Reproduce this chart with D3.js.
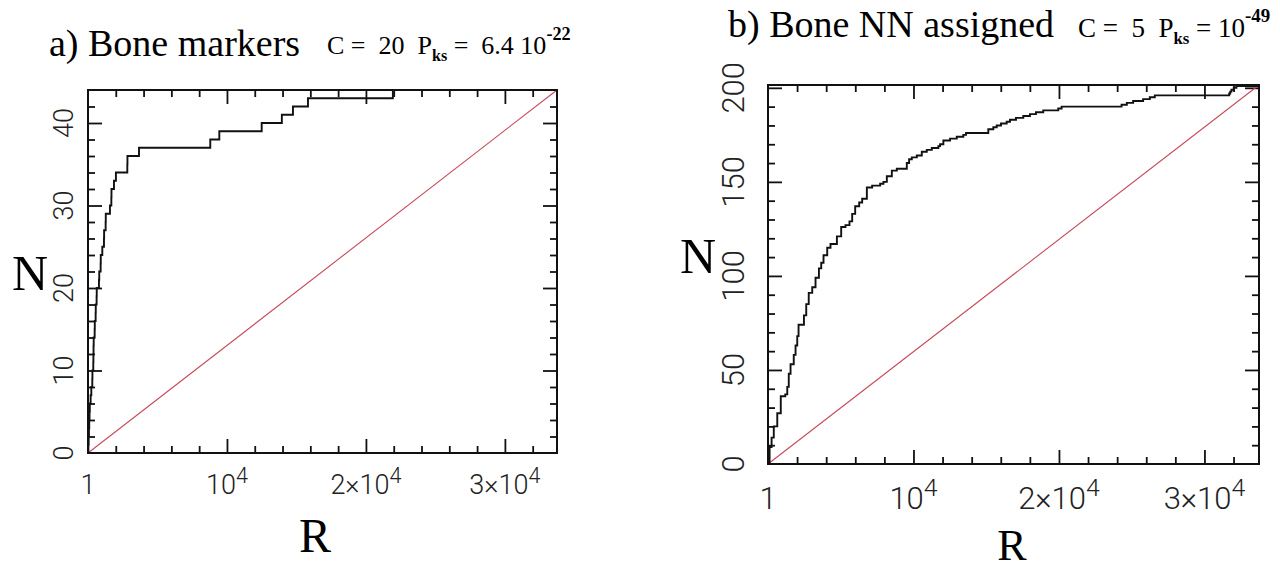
<!DOCTYPE html>
<html>
<head>
<meta charset="utf-8">
<script src="https://cdn.jsdelivr.net/npm/d3@7"></script>
<style>
    body { margin: 0; background: #fff; }
    svg { display: block; }
</style>
</head>
<body>
<svg id="chart" width="1280" height="573"></svg>
<script>
// ---- data ----
const rankMax = 33750;

// a) Bone markers: rank of each marker, N = position in list
const markerRanks = [30, 50, 70, 90, 110, 130, 190, 240, 310, 320,
    380, 390, 400, 410, 480, 490, 550, 560, 620, 630,
    790, 810, 910, 920, 1030, 1150, 1160, 1270, 1280, 1580,
    1680, 1690, 1870, 2010, 2830, 2840, 3670, 8800, 9450, 12500,
    13950, 14750, 15830, 21940];

// b) Bone NN assigned: rank / cumulative count pairs along the curve
const nnRanks = [110, 247, 398, 638, 879, 1188, 1325, 1428, 1551, 1771,
    1895, 2011, 2101, 2471, 2629, 2801, 3041, 3268, 3501, 3659,
    3817, 4071, 4297, 4737, 5032, 5327, 5602, 5787, 5993, 6268,
    6474, 6796, 7160, 7709, 7936, 8169, 8513, 8856, 9542, 9700,
    9886, 10229, 10572, 10915, 11259, 11712, 11828, 12055, 12515, 12975,
    13428, 13613, 15144, 15488, 15721, 16016, 16407, 16634, 17046, 17547,
    18007, 18419, 18920, 19950, 20183, 24302, 24666, 25099, 25785, 26245,
    26588, 31703, 31772, 31854, 32012, 32198];
const nnCounts = [9, 14, 20, 27, 36, 37, 41, 48, 53, 58,
    63, 68, 74, 79, 85, 91, 94, 99, 104, 107,
    111, 115, 117, 121, 126, 127, 129, 133, 137, 139,
    141, 147, 148, 149, 150, 153, 156, 157, 160, 162,
    163, 164, 166, 167, 168, 169, 170, 172, 173, 174,
    175, 176, 178, 179, 180, 181, 182, 183, 184, 185,
    186, 187, 188, 189, 190, 191, 192, 193, 194, 195,
    196, 197, 198, 199, 200, 201];

// tick values and labels
const xMajorTicks = [10000, 20000, 30000];
const xMinorTicks = [2000, 4000, 6000, 8000, 12000, 14000, 16000, 18000,
    22000, 24000, 26000, 28000, 32000];
const xLabelValues = [1, 10000, 20000, 30000];
const xLabelBase = ["1", "10", "2\u00d710", "3\u00d710"];
const xLabelSup = ["", "4", "4", "4"];

const aYMajor = [10, 20, 30, 40];
const aYMinor = [2, 4, 6, 8, 12, 14, 16, 18, 22, 24, 26, 28, 32, 34, 36, 38, 42];
const aYLabels = [0, 10, 20, 30, 40];

const bYMajor = [50, 100, 150, 200];
const bYMinor = [10, 20, 30, 40, 60, 70, 80, 90, 110, 120, 130, 140, 160, 170, 180, 190];
const bYLabels = [0, 50, 100, 150, 200];

const svg = d3.select("#chart");
const serif = "'Liberation Serif', 'Times New Roman', serif";
const sans = "Roboto, 'Liberation Sans', Arial, sans-serif";

// Draw inward ticks on one side with a d3 axis
function ticks(g, axisFn, scale, values, len, transform) {
    g.append("g")
        .attr("transform", transform)
        .call(axisFn(scale).tickValues(values).tickSize(-len).tickFormat(""))
        .call(s => s.select(".domain").remove())
        .selectAll("line")
        .attr("stroke", "#111")
        .attr("stroke-width", 1.8);
}

function drawPanel(p) {
    const g = svg.append("g");
    const x = d3.scaleLinear().domain([1, rankMax]).range([p.left, p.right]);
    const y = d3.scaleLinear().domain([0, p.yMax]).range([p.bottom, p.top]);

    // ticks on all four sides, pointing inside
    ticks(g, d3.axisBottom, x, xMajorTicks, 14, `translate(0,${p.bottom})`);
    ticks(g, d3.axisBottom, x, xMinorTicks, 7, `translate(0,${p.bottom})`);
    ticks(g, d3.axisTop, x, xMajorTicks, 14, `translate(0,${p.top})`);
    ticks(g, d3.axisTop, x, xMinorTicks, 7, `translate(0,${p.top})`);
    ticks(g, d3.axisLeft, y, p.yMajor, 14, `translate(${p.left},0)`);
    ticks(g, d3.axisLeft, y, p.yMinor, 7, `translate(${p.left},0)`);
    ticks(g, d3.axisRight, y, p.yMajor, 14, `translate(${p.right},0)`);
    ticks(g, d3.axisRight, y, p.yMinor, 7, `translate(${p.right},0)`);

    // uniform expectation: corner to corner
    g.append("line")
        .attr("x1", x(1)).attr("y1", y(0))
        .attr("x2", x(rankMax)).attr("y2", y(p.yMax))
        .attr("stroke", "#c8485a")
        .attr("stroke-width", 1.1);

    // cumulative step curve
    const pts = [[1, 0]].concat(p.ranks.map((r, i) => [r, p.counts[i]]));
    pts.push([rankMax, p.counts[p.counts.length - 1]]);
    g.append("path")
        .datum(pts)
        .attr("fill", "none")
        .attr("stroke", "#111")
        .attr("stroke-width", 1.9)
        .attr("d", d3.line().x(d => x(d[0])).y(d => y(d[1])).curve(d3.curveStepAfter));

    // frame
    g.append("rect")
        .attr("x", p.left).attr("y", p.top)
        .attr("width", p.right - p.left).attr("height", p.bottom - p.top)
        .attr("fill", "none")
        .attr("stroke", "#111")
        .attr("stroke-width", 2);

    // x tick labels
    const xl = g.selectAll(".xl")
        .data(xLabelValues)
        .enter()
        .append("text")
        .attr("x", d => x(d))
        .attr("y", p.bottom + p.xLabelDy)
        .attr("text-anchor", "middle")
        .attr("font-family", sans)
        .attr("font-weight", 300)
        .attr("font-size", p.tickFont)
        .attr("fill", "#222");
    xl.append("tspan").text((d, i) => xLabelBase[i]);
    xl.append("tspan")
        .attr("dy", -p.tickFont * 0.42)
        .attr("font-size", p.tickFont * 0.8)
        .text((d, i) => xLabelSup[i]);

    // y tick labels, rotated
    g.selectAll(".yl")
        .data(p.yLabels)
        .enter()
        .append("text")
        .attr("transform", d => `translate(${p.yLabelX},${y(d)}) rotate(-90)`)
        .attr("text-anchor", "middle")
        .attr("dominant-baseline", "central")
        .attr("font-family", sans)
        .attr("font-weight", 300)
        .attr("font-size", p.tickFont)
        .attr("fill", "#222")
        .text(d => d);

    // axis names
    g.append("text")
        .attr("x", p.nX).attr("y", p.nY)
        .attr("text-anchor", "middle")
        .attr("font-family", serif)
        .attr("font-size", 50)
        .text("N");
    g.append("text")
        .attr("x", p.rX).attr("y", p.rY)
        .attr("text-anchor", "middle")
        .attr("font-family", serif)
        .attr("font-size", p.rFont)
        .text("R");

    // title
    g.append("text")
        .attr("x", p.titleX).attr("y", p.titleY)
        .attr("font-family", serif)
        .attr("font-size", 38)
        .text(p.title);

    // statistics
    const st = g.append("text")
        .attr("x", p.statX).attr("y", p.statY)
        .attr("font-family", serif)
        .attr("font-size", p.statFont)
        .attr("xml:space", "preserve");
    st.append("tspan").text(p.statC + "  P");
    st.append("tspan").attr("dy", 7).attr("font-size", p.statFont * 0.62)
        .attr("font-weight", "bold").text("ks");
    st.append("tspan").attr("dy", -7).text(p.statP);
    st.append("tspan").attr("dy", -p.statFont * 0.55).attr("font-size", p.statFont * 0.7)
        .attr("font-weight", "bold").text(p.statExp);
}

drawPanel({
    left: 88, right: 557, top: 90, bottom: 453,
    yMax: 44, yMajor: aYMajor, yMinor: aYMinor, yLabels: aYLabels,
    ranks: markerRanks, counts: markerRanks.map((r, i) => i + 1),
    tickFont: 27, xLabelDy: 41, yLabelX: 64,
    nX: 30, nY: 290, rX: 315, rY: 552, rFont: 48,
    title: "a) Bone markers", titleX: 49, titleY: 56,
    statX: 327, statY: 54, statFont: 26,
    statC: "C =  20", statP: " =  6.4 10", statExp: "-22"
});

drawPanel({
    left: 768, right: 1259, top: 85, bottom: 464,
    yMax: 201.5, yMajor: bYMajor, yMinor: bYMinor, yLabels: bYLabels,
    ranks: nnRanks, counts: nnCounts,
    tickFont: 31, xLabelDy: 45, yLabelX: 733,
    nX: 698, nY: 273, rX: 1012, rY: 560, rFont: 44,
    title: "b) Bone NN assigned", titleX: 728, titleY: 37,
    statX: 1078, statY: 37, statFont: 27,
    statC: "C =  5", statP: " = 10", statExp: "-49"
});
</script>
</body>
</html>
